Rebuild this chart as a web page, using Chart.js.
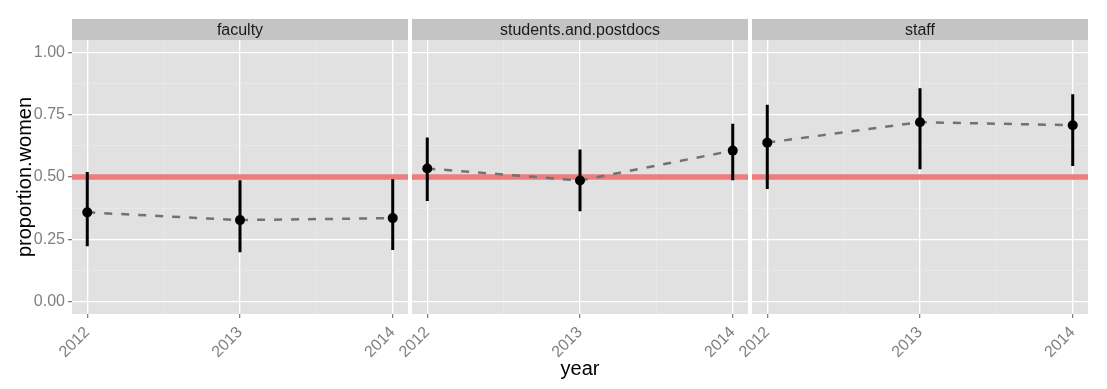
<!DOCTYPE html>
<html>
<head>
<meta charset="utf-8">
<script src="https://cdn.jsdelivr.net/npm/chart.js@4.4.0/dist/chart.umd.min.js"></script>
<style>
  body { margin: 0; background: #fff; }
  #wrap { position: relative; width: 1107px; height: 389px; }
  .panel { position: absolute; top: 0; height: 389px; }
</style>
</head>
<body>
<div id="wrap">
  <div class="panel" style="left:0;width:418px"><canvas id="c0"></canvas></div>
  <div class="panel" style="left:392px;width:366px"><canvas id="c1"></canvas></div>
  <div class="panel" style="left:732px;width:366px"><canvas id="c2"></canvas></div>
</div>
<script>
// data
const panels = ['faculty', 'students.and.postdocs', 'staff'];
const years = [2012, 2013, 2014];

const facultyMean = [0.358, 0.327, 0.335];
const facultyLow  = [0.222, 0.198, 0.207];
const facultyHigh = [0.520, 0.487, 0.491];

const studentsMean = [0.534, 0.486, 0.606];
const studentsLow  = [0.404, 0.363, 0.487];
const studentsHigh = [0.659, 0.610, 0.714];

const staffMean = [0.638, 0.720, 0.708];
const staffLow  = [0.452, 0.531, 0.544];
const staffHigh = [0.790, 0.856, 0.832];

const refLine = 0.5;
const yMajor = [0, 0.25, 0.5, 0.75, 1];
const yMinor = [0.125, 0.375, 0.625, 0.875];
const xMajor = [2012, 2013, 2014];
const xMinor = [2012.5, 2013.5];
const yMin = -0.05, yMax = 1.05;
const xMin = 2011.9, xMax = 2014.1;

const series = [
    { mean: facultyMean, low: facultyLow, high: facultyHigh },
    { mean: studentsMean, low: studentsLow, high: studentsHigh },
    { mean: staffMean, low: staffLow, high: staffHigh }
];

const FONT = '"Liberation Sans", Arial, Helvetica, sans-serif';
const AXIS_GREY = '#7f7f7f';

// grey panel + facet strip
const panelBg = {
    id: 'panelBg',
    beforeDraw(chart, args, opts) {
        const { ctx, chartArea: a } = chart;
        ctx.save();
        ctx.fillStyle = '#E1E1E1';
        ctx.fillRect(a.left, a.top, a.right - a.left, a.bottom - a.top);
        ctx.fillStyle = '#C4C4C4';
        ctx.fillRect(a.left, 19, a.right - a.left, a.top - 19);
        ctx.fillStyle = '#1a1a1a';
        ctx.font = '16px ' + FONT;
        ctx.textAlign = 'center';
        ctx.textBaseline = 'middle';
        ctx.fillText(opts.label, (a.left + a.right) / 2, (19 + a.top) / 2 + 1);
        ctx.restore();
    }
};

function barData(low, high) {
    const d = [];
    years.forEach((yr, i) => {
        d.push({ x: yr, y: low[i] }, { x: yr, y: high[i] }, { x: yr, y: null });
    });
    return d;
}

function makeChart(idx) {
    const s = series[idx];
    const first = idx === 0;
    const middle = idx === 1;
    const pts = years.map((yr, i) => ({ x: yr, y: s.mean[i] }));

    return new Chart(document.getElementById('c' + idx), {
        type: 'line',
        data: {
            datasets: [
                {
                    data: pts,
                    showLine: false,
                    pointRadius: 5,
                    pointBackgroundColor: '#000',
                    pointBorderWidth: 0,
                    order: 0
                },
                {
                    data: barData(s.low, s.high),
                    borderColor: '#000',
                    borderWidth: 3,
                    pointRadius: 0,
                    spanGaps: false,
                    order: 1
                },
                {
                    data: pts,
                    borderColor: '#727272',
                    borderWidth: 2.5,
                    borderDash: [8, 9],
                    pointRadius: 0,
                    order: 2
                },
                {
                    data: [{ x: xMin, y: refLine }, { x: xMax, y: refLine }],
                    borderColor: '#EE7C7C',
                    borderWidth: 5.5,
                    pointRadius: 0,
                    order: 3
                }
            ]
        },
        options: {
            responsive: true,
            maintainAspectRatio: false,
            animation: false,
            layout: { padding: { top: 40, left: first ? 0 : 20, right: 10, bottom: 0 } },
            plugins: {
                legend: { display: false },
                tooltip: { enabled: false },
                panelBg: { label: panels[idx] }
            },
            scales: {
                x: {
                    type: 'linear',
                    min: xMin,
                    max: xMax,
                    afterBuildTicks: sc => {
                        sc.ticks = [...xMajor, ...xMinor].sort((a, b) => a - b).map(v => ({ value: v }));
                    },
                    afterFit: sc => { sc.height = 75; },
                    ticks: {
                        autoSkip: false,
                        minRotation: 45,
                        maxRotation: 45,
                        padding: 5,
                        color: AXIS_GREY,
                        font: { family: FONT, size: 16 },
                        callback: v => xMajor.includes(v) ? String(v) : ''
                    },
                    grid: {
                        color: c => xMajor.includes(c.tick.value) ? '#ffffff' : '#EDEDED',
                        lineWidth: c => xMajor.includes(c.tick.value) ? 1.3 : 0.6,
                        tickColor: c => xMajor.includes(c.tick.value) ? AXIS_GREY : 'rgba(0,0,0,0)',
                        tickLength: 4
                    },
                    border: { display: false },
                    title: {
                        display: middle,
                        text: 'year',
                        color: '#000',
                        font: { family: FONT, size: 20 },
                        padding: { top: 0, bottom: 8 }
                    }
                },
                y: {
                    type: 'linear',
                    min: yMin,
                    max: yMax,
                    afterBuildTicks: sc => {
                        sc.ticks = [...yMajor, ...yMinor].sort((a, b) => a - b).map(v => ({ value: v }));
                    },
                    afterFit: sc => { sc.width = first ? 72 : 0; },
                    ticks: {
                        display: first,
                        padding: 3,
                        color: AXIS_GREY,
                        font: { family: FONT, size: 16 },
                        callback: v => yMajor.includes(v) ? v.toFixed(2) : ''
                    },
                    grid: {
                        color: c => yMajor.includes(c.tick.value) ? '#ffffff' : '#EDEDED',
                        lineWidth: c => yMajor.includes(c.tick.value) ? 1.3 : 0.6,
                        tickColor: c => yMajor.includes(c.tick.value) ? AXIS_GREY : 'rgba(0,0,0,0)',
                        drawTicks: first,
                        tickLength: 4
                    },
                    border: { display: false },
                    title: {
                        display: first,
                        text: 'proportion.women',
                        color: '#000',
                        font: { family: FONT, size: 20 },
                        padding: { top: 13, bottom: 0 }
                    }
                }
            }
        },
        plugins: [panelBg]
    });
}

[0, 1, 2].forEach(makeChart);
</script>
</body>
</html>
